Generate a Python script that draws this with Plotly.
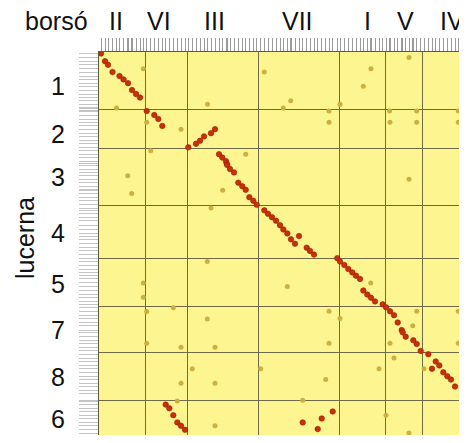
import plotly.graph_objects as go

# ---------------- data ----------------
# pea (borsó) linkage groups along x, alfalfa (lucerna) linkage groups along y
pea_groups = ["II", "VI", "III", "VII", "I", "V", "IV"]
pea_bounds = [0, 46, 88, 159, 240, 286, 323, 368]
alf_groups = ["1", "2", "3", "4", "5", "7", "8", "6"]
alf_bounds = [0, 58, 98, 155, 209, 257, 304, 352, 387]

# syntenic (collinear) markers: position on pea map, position on alfalfa map
syn_pea = [2, 6, 9, 13.5, 20.5, 24.5, 29, 33, 37, 41,
           47.7, 55.3, 59.3, 63.3, 89.3, 97, 101, 105, 112, 116,
           120, 123.3, 127, 127.7, 128.3, 131, 135, 139.3, 143.3, 146.7, 150.3, 154.3, 157.7,
           165.3, 169, 173, 177, 181, 184.3, 188.3, 192, 196, 200, 207.7, 211, 215,
           238.3, 241, 245.3, 249.3, 253.3, 257, 261, 264.3, 268.3, 272, 276,
           283.7, 287, 291, 295, 298.7, 302.7, 303.7, 306.7, 314.3, 317.7, 321.7,
           329.3, 333, 336.7, 340.3, 344.3, 348.3, 352, 356, 363.3, 367,
           66.7, 70.3, 74.3, 78.3, 82, 86, 203.7, 218.7, 222.7, 233.7]
syn_alf = [1.5, 9.3, 13, 20.3, 24.3, 27.7, 31.5, 38.5, 42.5, 46,
           59.7, 63.7, 67.7, 74.7, 96.3, 92.7, 89.7, 85.3, 82, 78,
           103.3, 106.7, 110.3, 112.7, 114.3, 118.3, 121.7, 132, 135.7, 139.3, 146.7, 150.3, 154.3,
           160, 163.5, 167, 170.5, 175, 179.3, 183.3, 189.3, 193.7, 186, 197.7, 201, 204.7,
           208.3, 211.7, 215.3, 219.3, 222.7, 226, 229.3, 241, 245, 248.3, 252,
           255, 258, 262, 266, 273.3, 281, 283.3, 287.7, 291.3, 295, 302,
           305.3, 320, 312.7, 316.7, 323.7, 327.7, 331, 338, 341.7, 345.3,
           356.3, 360, 367, 374.3, 377.7, 381.7, 374.3, 381, 370.3, 363.3]

# non-syntenic markers (mapped to other linkage groups)
oth_pea = [44.3, 17.5, 108.5, 165.3, 191.7, 184.3, 272, 264.3, 310, 241, 230, 290.5, 317.7, 359.3,
           230, 291, 317.7, 359.3, 47.7, 82,
           51.7, 146.7, 28.7, 32.7, 123.7, 310,
           112,
           108.3, 44.3, 44.3, 271.7, 188.3,
           74.3, 47.7, 108.3, 47.7, 82, 116, 230, 241, 317.7, 313.7, 359.3, 230, 291, 359.3,
           93.3, 161.7, 82, 116, 295, 280, 325, 226.7,
           78.3, 116, 203.7, 287, 310]
oth_alf = [17, 56.5, 52.7, 20.3, 49.3, 56.7, 17, 34.5, 5.5, 52.7, 59.5, 59.5, 59.5, 59.5,
           71, 71, 71, 71, 71, 78,
           99.7, 103.3, 125, 143, 139.7, 128.7,
           157.7,
           211.7, 233.3, 247.7, 233.3, 237,
           258.3, 262.3, 269.7, 294.3, 298.3, 298.3, 262, 269.3, 262, 276.7, 262, 294.3, 294.3, 294.3,
           320, 320, 334.7, 334.7, 309.3, 320, 320, 331,
           352.7, 377.7, 352, 367, 385]

# ---------------- style / layout constants ----------------
OFF = 8                      # default body margin of the written html page
W, H = 467 - OFF, 443 - 2 * OFF
PLOT_LEFT, PLOT_TOP, PLOT_BOTTOM = 99, 52, 435   # page pixels
L, R, T, B = PLOT_LEFT - OFF, 0, PLOT_TOP - OFF, H + OFF - PLOT_BOTTOM
PW, PH = W - L - R, H - T - B
FONT = "Liberation Sans, Arial, sans-serif"

def px_x(px):
    return (px - PLOT_LEFT) / PW

def px_y(py):
    return (PLOT_BOTTOM - py) / PH

pea_label_px = [116, 159, 214, 297, 367, 405, 452]
alf_label_pos = [34, 83, 126, 183, 234, 281, 328, 371]   # along alfalfa axis

fig = go.Figure()
fig.add_trace(go.Scatter(
    x=oth_pea, y=oth_alf, mode="markers",
    marker=dict(size=5, color="#cdb040", line=dict(width=0)),
    hoverinfo="skip", showlegend=False))
fig.add_trace(go.Scatter(
    x=syn_pea, y=syn_alf, mode="markers",
    marker=dict(size=5.5, color="#c8300c", line=dict(width=0.6, color="#9a1c00")),
    hoverinfo="skip", showlegend=False))

all_x = sorted(set(syn_pea + oth_pea))
all_y = sorted(set(syn_alf + oth_alf))

fig.update_xaxes(
    range=[pea_bounds[0], pea_bounds[-1]], side="top",
    tickmode="array", tickvals=pea_bounds[1:-1], ticks="", showticklabels=False,
    showgrid=True, gridcolor="#6e6c48", gridwidth=1, zeroline=False,
    showline=True, linecolor="#5a5a40", linewidth=1, mirror=True,
    minor=dict(tickmode="array", tickvals=all_x, ticks="outside", ticklen=13,
               tickcolor="#9a9a9a", tickwidth=1, showgrid=False),
)
fig.update_yaxes(
    range=[alf_bounds[-1], alf_bounds[0]],
    tickmode="array", tickvals=alf_bounds[1:-1], ticks="", showticklabels=False,
    showgrid=True, gridcolor="#6e6c48", gridwidth=1, zeroline=False,
    showline=True, linecolor="#5a5a40", linewidth=1, mirror=False,
    minor=dict(tickmode="array", tickvals=all_y, ticks="outside", ticklen=19,
               tickcolor="#c4c4c4", tickwidth=1, showgrid=False),
)

ann = []
ann.append(dict(text="borsó", x=px_x(56), y=px_y(21), xref="paper", yref="paper",
                showarrow=False, xanchor="center", yanchor="middle",
                font=dict(size=25, color="#111", family=FONT)))
for lab, px in zip(pea_groups, pea_label_px):
    ann.append(dict(text=lab, x=px_x(px), y=px_y(21), xref="paper", yref="paper",
                    showarrow=False, xanchor="center", yanchor="middle",
                    font=dict(size=25, color="#111", family=FONT)))
for lab, pos in zip(alf_groups, alf_label_pos):
    ann.append(dict(text=lab, x=px_x(58), y=pos, xref="paper", yref="y",
                    showarrow=False, xanchor="center", yanchor="middle",
                    font=dict(size=25, color="#111", family=FONT)))
ann.append(dict(text="lucerna", x=px_x(25), y=px_y(238), xref="paper", yref="paper",
                showarrow=False, xanchor="center", yanchor="middle", textangle=-90,
                font=dict(size=25, color="#111", family=FONT)))

fig.update_layout(
    width=W, height=H, margin=dict(l=L, r=R, t=T, b=B, pad=0),
    plot_bgcolor="#fdf58f", paper_bgcolor="white",
    annotations=ann, showlegend=False,
)
fig.write_html("out.html")
